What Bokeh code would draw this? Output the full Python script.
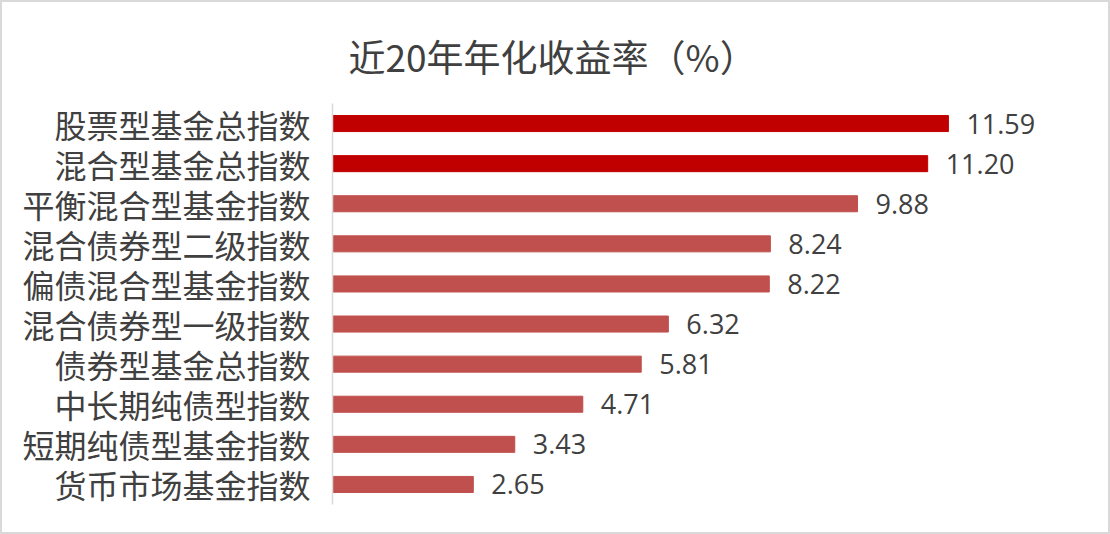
from bokeh.plotting import figure
from bokeh.models import ColumnDataSource, FactorRange, Range1d, Title
from bokeh.embed import file_html
from bokeh.resources import INLINE

categories = ["股票型基金总指数", "混合型基金总指数", "平衡混合型基金指数", "混合债券型二级指数",
              "偏债混合型基金指数", "混合债券型一级指数", "债券型基金总指数", "中长期纯债型指数",
              "短期纯债型基金指数", "货币市场基金指数"]
values = [11.59, 11.20, 9.88, 8.24, 8.22, 6.32, 5.81, 4.71, 3.43, 2.65]
labels = ["11.59", "11.20", "9.88", "8.24", "8.22", "6.32", "5.81", "4.71", "3.43", "2.65"]
colors = ["#C00000", "#C00000"] + ["#C0504D"] * 8
title_text = "近20年年化收益率（%）"

src = ColumnDataSource(dict(cat=categories, val=values, lab=labels, col=colors))

p = figure(width=1110, height=534, output_backend="svg", toolbar_location=None,
           y_range=FactorRange(factors=categories[::-1], range_padding=0),
           x_range=Range1d(0, 14.49),
           min_border_left=330, min_border_right=10, min_border_top=101, min_border_bottom=32)
p.hbar(y="cat", right="val", left=0, height=0.4, color="col", source=src)
p.text(x="val", y="cat", text="lab", source=src, x_offset=18, text_baseline="middle",
       text_align="left", text_font_size="27px", text_color="#404040",
       text_font={"value": "Open Sans"})

t = Title(text=title_text, text_font_size="37px", text_font="Noto Sans CJK SC",
          text_font_style="normal", text_color="#404040", align="left", offset=16,
          standoff=40, vertical_align="middle")
p.add_layout(t, "above")

p.xaxis.visible = False
p.xgrid.visible = False
p.ygrid.visible = False
p.outline_line_color = None
ya = p.yaxis[0]
ya.axis_line_color = "#D9D9D9"
ya.axis_line_width = 1.5
ya.major_tick_line_color = None
ya.minor_tick_line_color = None
ya.major_tick_out = 0
ya.major_tick_in = 0
ya.major_label_standoff = 22
ya.major_label_text_font_size = "32px"
ya.major_label_text_font = "Noto Sans CJK SC"
ya.major_label_text_color = "#404040"
p.styles = {"border": "2px solid #D9D9D9", "box-sizing": "border-box"}

open("out.html", "w").write(file_html(p, INLINE))
